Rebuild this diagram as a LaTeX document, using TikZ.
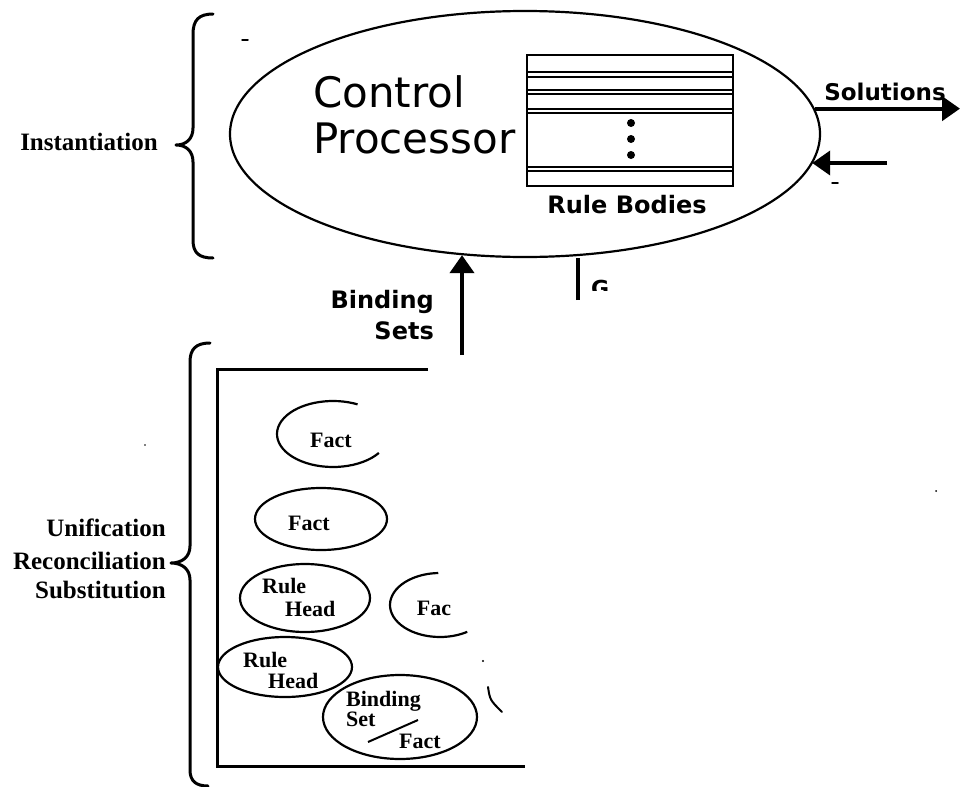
\documentclass[tikz,border=0pt]{standalone}
\usepackage{fontspec}
\setmainfont{Liberation Serif}
\newfontfamily\dvs{DejaVu Sans}
\usetikzlibrary{arrows.meta,shapes.geometric}
\tikzset{
  oval/.style={line width=2.2pt},
  frame/.style={line width=3pt},
  bracepath/.style={line width=3pt, line cap=round, line join=round},
  bigarrow/.style={line width=4pt, -{Triangle[length=18pt,width=24pt]}},
  slbl/.style={font=\bfseries\fontsize{25}{30}\selectfont, inner sep=0pt},
  flbl/.style={font=\bfseries\fontsize{22}{22}\selectfont, inner sep=0pt},
  dlbl/.style={font=\dvs\bfseries\fontsize{24}{24}\selectfont, inner sep=0pt},
  biglbl/.style={font=\dvs\fontsize{42}{46}\selectfont, inner sep=0pt},
  rowline/.style={line width=2pt},
  speck/.style={line width=1.5pt, line cap=round},
}
\begin{document}
\begin{tikzpicture}[x=1pt,y=-1pt]
\useasboundingbox (0,0) rectangle (961,787);

% ---------- top: control processor ----------
\node (cp) [ellipse, draw, oval, minimum width=590pt, minimum height=246pt, inner sep=0pt] at (525,134) {};
\node (ctl1) [biglbl, anchor=base west] at (313,107) {Control};
\node (ctl2) [biglbl, anchor=base west] at (313,153) {Processor};

% rule bodies table
\draw[rowline] (527,55) rectangle (733,186);
\foreach \yy in {72,77,90,94,109,113,167,171} \draw[rowline] (527,\yy) -- (733,\yy);
\foreach \yy in {123,139,155} \fill (631,\yy) circle (4pt);
\node (rb) [dlbl, anchor=base] at (627,213) {Rule Bodies};

% solutions arrows
\coordinate (solend) at (960,108);
\draw[bigarrow] (cp.5) -- (cp.5 -| solend);
\node (sol) [dlbl, font=\dvs\bfseries\fontsize{23}{23}\selectfont, anchor=base] at (885,100) {Solutions};
\coordinate (instart) at (887,163);
\draw[bigarrow] (instart) -- (instart -| cp.-6);

% binding sets arrow
\coordinate (bsfoot) at (462,355);
\draw[bigarrow] (bsfoot) -- (bsfoot |- cp.242);
\node (bs1) [dlbl, anchor=base east] at (434,308) {Binding};
\node (bs2) [dlbl, anchor=base east] at (434,339) {Sets};

% G line
\coordinate (gfoot) at (578,300);
\draw[line width=4pt] (gfoot) -- (gfoot |- cp.south);
\begin{scope}
\clip (588,272) rectangle (612,290);
\node (g) [font=\dvs\bfseries\fontsize{22}{22}\selectfont, inner sep=0pt, anchor=base west] at (591,296) {G};
\end{scope}

% instantiation brace
\draw[bracepath] (213,14) .. controls (199,14) and (193,20) .. (193,34) -- (193,128)
  .. controls (193,139) and (186,145) .. (176,145)
  .. controls (186,145) and (193,151) .. (193,162) -- (193,240)
  .. controls (193,253) and (199,258) .. (213,258);
\node (inst) [slbl, anchor=base east] at (158,150) {Instantiation};

% ---------- bottom: unification box ----------
\draw[bracepath] (210,343) .. controls (196,343) and (190,349) .. (190,362) -- (190,546)
  .. controls (190,557) and (182,563) .. (171,563)
  .. controls (182,563) and (190,569) .. (190,580) -- (190,770)
  .. controls (190,781) and (196,786) .. (208,786);
\node (uni) [slbl, anchor=base east] at (166,536) {Unification};
\node (rec) [slbl, anchor=base east] at (166,569) {Reconciliation};
\node (sub) [slbl, anchor=base east] at (166,598) {Substitution};

\draw[frame] (428,369) -- (217,369) -- (217,766) -- (525,766);

% fact 1 (open at right)
\draw[oval] (333,434) ++(35:56 and 33) arc[start angle=35, end angle=296, x radius=56, y radius=33];
\node (f1) [flbl] at (331,440) {Fact};
% fact 2
\draw[oval] (321,519) ellipse [x radius=66, y radius=31];
\node (f2) [flbl] at (309,523) {Fact};
% rule head 1
\draw[oval] (305,598) ellipse [x radius=65, y radius=34];
\node (rh1a) [flbl, anchor=base west] at (262,593) {Rule};
\node (rh1b) [flbl, anchor=base west] at (285,616) {Head};
% fac (open at right)
\draw[oval] (440,605) ++(57:50 and 32) arc[start angle=57, end angle=268, x radius=50, y radius=32];
\node (f3) [flbl] at (434,608) {Fac};
% rule head 2
\draw[oval] (285,667) ellipse [x radius=67, y radius=30];
\node (rh2a) [flbl, anchor=base west] at (243,667) {Rule};
\node (rh2b) [flbl, anchor=base west] at (268,688) {Head};
% binding set / fact
\draw[oval] (400,717) ellipse [x radius=77, y radius=42];
\node (bsf1) [flbl, anchor=base west] at (346,706) {Binding};
\node (bsf2) [flbl, anchor=base west] at (346,726) {Set};
\node (bsf3) [flbl, anchor=base west] at (399,748) {Fact};
\draw[line width=2pt] (368,742) -- (418,720);

% partial stroke and specks
\draw[line width=2pt, line cap=round] (488,687) .. controls (490,700) .. (502,712);
\fill (483,661) circle (1.2pt);
\fill (145,445) circle (0.8pt);
\fill (936,491) circle (1pt);
\draw[speck] (242,40) -- (248,40);
\draw[speck] (832,183) -- (838,183);
\end{tikzpicture}
\end{document}
